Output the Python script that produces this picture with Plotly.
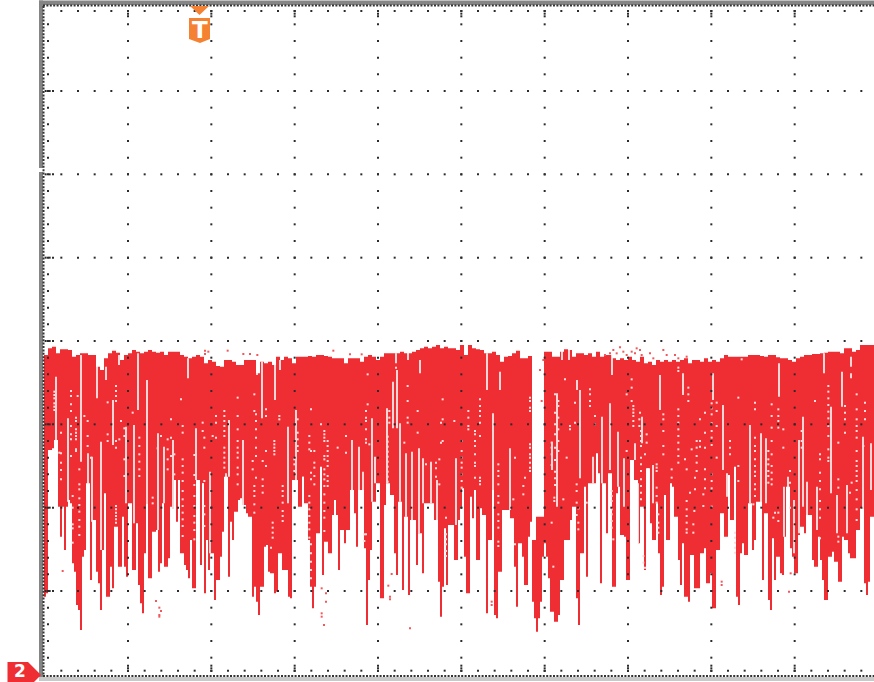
import plotly.graph_objects as go

# Trace read-out: time counts (one column = 6 counts) and depth counts (250 counts per division)
STRIP_STARTS = [40, 180, 320, 460, 600, 740]
FIRST_COLUMN = [12, 0, 0, 0, 0, 0]

LOWER_1 = [770,760,330,330,325,300,300,500,590,500,630,500,480,490,670,695,795,810,870,650,630,430,430,720,540,540,695,730,810,630,460,770,770,680,745,560,560,680,680,530,680,710,490,490,690,690,550,735,790,820,640,490,715,715,575,575,570,695,670,490,680,680,655,500,505,420,545,420]
LOWER_2 = [640,640,675,690,715,600,745,745,420,420,675,430,760,600,690,640,640,780,720,720,650,575,410,410,710,545,600,515,515,480,475,495,495,520,530,530,770,740,785,825,740,740,620,615,695,700,700,760,755,640,640,690,690,690,770,775,420,420,420,500,500,410,490,490,600,740,805,740,580,580]
LOWER_3 = [380,705,605,605,640,640,525,480,525,690,570,570,610,570,570,450,450,520,620,450,450,450,625,855,720,630,485,485,430,430,775,775,495,430,430,465,465,640,705,485,485,750,530,530,765,540,540,540,675,580,580,700,490,490,490,490,490,540,540,725,830,740,565,735,555,555,555,660,660,540]
LOWER_4 = [500,445,650,760,760,470,535,450,660,660,505,525,525,820,600,600,450,825,835,695,695,510,510,510,510,535,535,680,800,610,610,650,735,735,590,545,785,835,875,835,785,650,610,650,715,815,815,845,845,825,720,720,600,600,600,540,500,500,775,855,640,640,440,710,430,430,430,430,340,400]
LOWER_5 = [730,430,430,580,400,400,740,740,460,440,585,585,590,720,720,360,360,420,420,610,500,500,690,385,385,550,600,600,490,640,765,740,465,600,600,430,440,530,530,660,735,610,770,770,785,645,645,745,745,745,640,640,625,730,730,700,805,805,630,630,520,520,590,590,405,540,540,380,770,795]
LOWER_6 = [640,610,645,645,490,490,630,600,485,485,485,720,520,520,780,810,595,720,650,650,700,705,590,440,440,625,650,700,700,585,560,560,580,525,525,525,660,680,680,590,660,720,780,780,650,650,635,665,665,725,725,590,600,600,640,655,655,655,570,570,505,505,730,765,725,530,530]

UPPER_1 = [45,25,20,40,28,28,30,50,45,40,40,45,45,80,90,55,40,32,38,60,45,40,30,35,40,35,30,35,38,35,45,35,35,35]
UPPER_2 = [45,50,55,50,45,50,70,60,65,78,80,60,60,65,75,75,60,60,60,100,65,70,65,75,50,60,50,55,70,50,50,50,48,50,45]
UPPER_3 = [45,48,50,55,55,55,70,55,55,55,65,50,45,50,60,50,40,40,40,40,35,40,40,35,30,25,20,25,20,15,25,20,25,25,30]
UPPER_4 = [15,45,15,25,28,30,40,40,35,45,65,50,48,40,32,55,55,48,600,530,530,35,35,50,50,35,28,30,50,40,40,45,40,50,35]
UPPER_5 = [50,45,45,55,60,55,60,50,60,65,50,70,65,75,60,65,60,65,60,65,60,55,70,60,60,65,55,65,60,65,55,45,50,50,50]
UPPER_6 = [50,50,45,45,45,48,50,45,45,52,55,55,60,65,55,50,45,45,42,42,40,38,35,35,35,40,25,25,35,30,15,15,15,15]

# Thin gaps inside the trace: (time, depth from, depth to)
GAPS_1 = [(48,110,300),(83,235,485),(124,45,365),(144,340,490),(155,350,545),(170,70,175),(182,305,630),(197,80,120),(218,180,315),(238,45,75),(258,260,490),(283,255,550),(295,40,210),(322,120,490),(355,280,570),(372,320,490),(398,300,505)]
GAPS_2 = [(24,55,115),(48,265,420),(68,430,540),(90,395,640),(137,400,600),(148,240,410),(190,300,495),(245,65,235),(285,50,180),(300,60,90),(325,260,490),(348,210,420),(370,410,490),(230,65,105)]
GAPS_3 = [(95,300,450),(118,320,450),(130,395,450),(155,235,485),(165,350,430),(200,205,430),(220,125,265),(230,90,265),(240,250,485),(258,340,530),(275,335,540),(296,325,580),(300,60,100),(310,355,490),(334,365,490),(352,420,540),(407,355,555),(228,40,70),(265,30,60)]
GAPS_4 = [(82,40,150),(120,95,150),(100,220,450),(150,325,510),(275,305,390),(290,160,500),(360,150,415),(400,350,430),(350,120,150),(305,30,60),(328,30,60)]
GAPS_5 = [(5,230,430),(30,190,390),(55,275,440),(72,355,500),(105,310,360),(98,360,550),(125,230,310),(160,375,490),(180,105,210),(250,100,165),(340,100,180),(368,195,390),(380,400,470),(145,385,490),(37,40,105),(115,430,610)]
GAPS_6 = [(30,255,490),(62,280,490),(78,295,490),(117,70,170),(133,440,590),(145,410,490),(163,480,640),(178,300,580),(190,230,500),(202,425,530),(232,440,570),(252,40,100),(272,200,460),(290,465,580),(307,95,200),(322,435,580),(332,100,115),(370,290,505),(392,310,450),(332,50,80)]

# Isolated empty samples inside the trace: (time, depth)
HOLES_1 = [(43,155),(43,165),(43,175),(43,190),(43,200),(43,210),(93,153),(93,168),(93,193),(93,213),(113,168),(108,233),(108,243),(93,258),(63,278),(108,268),(108,278),(93,283),(108,288),(108,298),(93,298),(63,340),(58,338),(63,368),(63,390),(63,418),(108,328),(108,333),(93,348),(118,388),(118,433),(118,448),(118,475),(118,495),(118,515),(118,540),(118,560),(118,585),(98,468),(98,503),(98,553),(98,565),(98,608),(228,138),(228,153),(228,168),(228,183),(203,187),(133,228),(143,243),(243,243),(253,265),(253,288),(143,288),(143,318),(153,353),(203,283),(203,303),(228,303),(238,298),(228,323),(253,358),(253,408),(298,293),(298,318),(298,343),(298,365),(298,388),(298,408),(278,218),(393,238),(363,288),(383,298),(393,293),(383,328),(353,325),(383,358),(393,348),(403,343),(383,388),(403,403),(338,473),(338,490),(228,498),(228,508),(228,518),(228,528),(228,538),(228,548)]
HOLES_2 = [(3,178),(8,258),(8,278),(68,248),(68,273),(73,293),(73,323),(98,288),(108,228),(108,248),(108,293),(133,213),(133,228),(133,243),(133,258),(133,273),(133,288),(133,323),(133,338),(133,353),(133,368),(133,383),(173,173),(173,228),(173,268),(173,303),(173,323),(173,338),(173,353),(173,383),(173,403),(173,433),(223,163),(223,213),(228,223),(228,243),(228,268),(228,293),(228,323),(228,348),(218,363),(218,388),(228,413),(223,438),(223,453),(223,468),(223,493),(223,518),(248,363),(258,208),(258,228),(258,333),(258,378),(248,418),(248,438),(248,458),(298,228),(298,238),(283,303),(283,313),(283,323),(283,333),(283,343),(308,438),(308,453),(308,468),(308,488),(308,513),(308,528),(308,543),(278,548),(278,563),(278,578),(278,593),(273,623),(353,238),(353,278),(353,298),(353,318),(353,333),(343,358),(343,373),(343,393),(388,288),(388,308),(388,328),(393,208),(393,333),(403,333),(403,368),(403,383),(393,398),(403,408),(393,418),(403,433),(388,468),(388,488),(388,508),(388,528),(388,548),(388,568),(388,593),(393,613),(393,640),(393,665),(393,690),(393,715),(43,345),(43,405),(43,435),(43,468),(43,498),(43,528),(43,548),(43,570),(43,598),(8,358),(8,378),(8,398),(8,423),(8,453),(8,478),(8,498),(8,518),(8,538),(8,558),(8,588),(73,498),(73,523),(73,558),(73,423)]
HOLES_3 = [(143,103),(143,193),(138,213),(138,233),(138,243),(138,268),(138,298),(138,308),(148,313),(78,288),(78,338),(53,323),(13,273),(13,283),(13,293),(13,303),(23,303),(23,318),(23,333),(23,348),(23,363),(23,378),(13,348),(13,358),(13,388),(13,403),(13,418),(23,408),(23,423),(23,438),(13,438),(13,463),(13,488),(13,513),(13,533),(13,573),(3,253),(208,213),(208,233),(208,248),(203,290),(203,305),(203,320),(203,335),(203,350),(203,365),(203,380),(203,395),(203,410),(203,425),(228,83),(263,138),(263,183),(263,233),(263,248),(293,213),(293,278),(253,308),(368,178),(368,238),(363,248),(363,308),(368,303),(403,243),(318,373),(348,368),(358,358),(348,385),(348,410),(358,433),(378,533),(378,583),(378,598),(378,613),(378,633),(378,648),(133,583),(133,603),(138,583)]
HOLES_4 = [(60,178),(60,198),(60,213),(60,228),(60,248),(60,288),(25,213),(25,233),(25,258),(25,268),(45,273),(45,283),(45,303),(45,318),(45,343),(45,368),(45,378),(45,413),(5,303),(5,333),(5,353),(5,368),(5,383),(5,403),(5,423),(5,443),(60,413),(60,423),(60,433),(115,373),(115,393),(115,408),(115,433),(115,468),(115,488),(115,523),(115,543),(115,563),(115,605),(115,618),(165,353),(195,413),(190,438),(190,463),(160,478),(165,613),(210,173),(210,183),(210,203),(210,213),(210,313),(210,323),(210,343),(210,353),(210,368),(210,383),(210,393),(280,680),(315,118),(345,188),(390,148),(390,163),(390,183),(390,198),(405,228),(405,253),(345,248),(330,258),(330,268),(310,478),(350,433),(350,453),(380,488),(350,488),(350,525),(355,505),(355,548),(355,568),(285,163),(295,183),(295,198),(285,218),(295,233),(285,253),(295,268),(285,283),(295,303),(285,323),(295,333),(275,308),(275,323),(275,343),(285,360),(275,375),(285,395),(285,415),(285,435),(283,473),(283,483),(275,548),(320,353)]
HOLES_5 = [(95,118),(95,143),(80,163),(95,183),(100,198),(100,208),(100,218),(100,228),(100,243),(100,258),(120,218),(118,238),(118,258),(123,273),(123,288),(123,303),(123,318),(140,283),(140,308),(135,343),(80,333),(123,353),(123,373),(123,393),(123,418),(123,438),(123,458),(123,478),(170,373),(170,383),(170,393),(170,443),(170,468),(170,488),(175,523),(175,548),(175,563),(175,578),(190,223),(190,238),(190,273),(190,318),(190,343),(215,388),(215,413),(235,208),(235,228),(235,248),(235,268),(235,288),(235,308),(235,328),(235,348),(235,368),(255,358),(260,388),(265,143),(265,163),(265,183),(235,83),(235,93),(300,238),(315,218),(315,278),(290,303),(300,303),(300,320),(290,323),(315,323),(275,328),(290,348),(290,368),(290,393),(285,413),(285,448),(270,458),(260,483),(260,508),(260,528),(260,548),(260,568),(260,578),(280,553),(280,578),(283,513),(310,463),(310,498),(315,388),(315,418),(315,445),(335,190),(335,205),(335,223),(335,250),(335,273),(335,293),(335,315),(350,188),(350,213),(350,258),(350,353),(335,403),(335,423),(335,445),(335,500),(35,453),(35,468),(35,483),(35,508),(35,523),(35,543),(35,563),(40,598),(405,578),(405,593),(405,608),(405,623),(405,638),(390,303),(390,323),(390,343),(415,173),(415,378),(415,423),(130,648),(130,668),(135,683)]
HOLES_6 = [(5,58),(45,188),(45,208),(95,193),(95,228),(95,263),(115,208),(115,228),(115,243),(115,263),(130,268),(130,323),(45,293),(45,318),(45,333),(45,358),(45,378),(45,395),(45,408),(45,433),(45,448),(45,468),(40,493),(85,333),(85,358),(85,373),(85,393),(85,408),(85,428),(95,303),(95,343),(95,378),(95,398),(95,418),(95,433),(115,518),(105,518),(100,533),(115,543),(150,393),(150,428),(150,503),(185,273),(185,303),(185,323),(225,183),(240,343),(240,358),(240,398),(240,423),(240,448),(240,483),(240,508),(240,533),(265,138),(265,155),(265,175),(265,195),(265,215),(265,235),(265,258),(265,288),(265,328),(265,353),(265,363),(295,308),(295,418),(295,443),(315,198),(315,218),(315,238),(315,278),(350,163),(350,208),(350,238),(350,258),(350,273),(350,293),(350,333),(350,363),(350,378),(350,393),(350,408),(350,423),(350,450),(350,478),(350,508),(350,540),(375,188),(375,213),(375,238),(370,318),(335,428),(330,458),(240,595),(295,590),(295,605)]

# Isolated samples outside the solid trace: (time, depth)
STRAY_1 = [(68,693),(348,783),(358,803),(363,813),(358,825),(358,830)]
STRAY_2 = [(75,32),(75,42),(85,35),(143,32),(190,42),(210,42),(232,45)]
STRAY_3 = [(40,32),(90,43),(125,43),(5,745),(18,760),(18,785),(5,820),(5,830),(12,855),(205,737),(215,702),(210,770),(210,778),(270,865)]
STRAY_4 = [(95,785),(95,795),(240,90),(250,60),(245,183)]
STRAY_5 = [(60,22),(70,35),(50,40),(40,30),(30,40),(95,35),(110,25),(120,30),(125,45),(105,40),(80,45),(15,45),(150,40),(160,55),(190,30),(200,45),(225,45),(235,55),(260,50),(365,725),(365,735)]
STRAY_6 = [(147,755),(152,700)]

RED = "#EF2E33"
ORANGE = "#F58233"
DOT = "#2b2b2b"
X_DIV = 250
Y_DIV = 250
X_ORIGIN = 134
Y_CENTRE = 3
MINOR = 50

LOWERS = [LOWER_1, LOWER_2, LOWER_3, LOWER_4, LOWER_5, LOWER_6]
UPPERS = [UPPER_1, UPPER_2, UPPER_3, UPPER_4, UPPER_5, UPPER_6]
GAPS = [GAPS_1, GAPS_2, GAPS_3, GAPS_4, GAPS_5, GAPS_6]
HOLES = [HOLES_1, HOLES_2, HOLES_3, HOLES_4, HOLES_5, HOLES_6]
STRAYS = [STRAY_1, STRAY_2, STRAY_3, STRAY_4, STRAY_5, STRAY_6]

col_x, col_top, col_len = [], [], []
gap_x, gap_top, gap_len = [], [], []
hole_x, hole_y, stray_x, stray_y = [], [], [], []
for s, start in enumerate(STRIP_STARTS):
    off = start * 3
    for k, low in enumerate(LOWERS[s]):
        top = UPPERS[s][min(k // 2, len(UPPERS[s]) - 1)]
        col_x.append(off + FIRST_COLUMN[s] + 6 * k + 3)
        col_top.append(top)
        col_len.append(max(low - top, 0))
    for gx, a, b in GAPS[s]:
        gap_x.append(off + gx); gap_top.append(a); gap_len.append(b - a)
    for hx, hy in HOLES[s]:
        hole_x.append(off + hx); hole_y.append(hy)
    for rx, ry in STRAYS[s]:
        stray_x.append(off + rx); stray_y.append(ry)

# Graticule dots
gx_dots, gy_dots = [], []
majors_x = [X_ORIGIN + X_DIV * i for i in range(0, 11)]
majors_y = [Y_CENTRE + Y_DIV * j for j in range(-4, 5)]
for mx in majors_x[1:]:
    for n in range(1, 40):
        gx_dots.append(mx); gy_dots.append(majors_y[0] + MINOR * n)
for my in majors_y[1:-1]:
    for n in range(1, 50):
        gx_dots.append(X_ORIGIN + MINOR * n); gy_dots.append(my)
# Edge ticks
for n in range(1, 50):
    vx = X_ORIGIN + MINOR * n
    gx_dots += [vx, vx]; gy_dots += [majors_y[0] + 10, majors_y[-1] - 11]
for n in range(1, 40):
    vy = majors_y[0] + MINOR * n
    gx_dots.append(X_ORIGIN + 10); gy_dots.append(vy)
for my in majors_y[1:-1]:
    gx_dots += [X_ORIGIN + 3, X_ORIGIN + 15, X_ORIGIN + 25]; gy_dots += [my, my, my]
for mx in majors_x[1:]:
    for d in (10, 18, 26):
        gx_dots += [mx, mx]; gy_dots += [majors_y[0] + d, majors_y[-1] - d]

fig = go.Figure()
fig.add_trace(go.Bar(x=col_x, y=col_len, base=col_top, width=6, marker=dict(color=RED, line=dict(width=0))))
fig.add_trace(go.Bar(x=gap_x, y=gap_len, base=gap_top, width=4, marker=dict(color="#fff", opacity=0.8, line=dict(width=0))))
fig.add_trace(go.Scatter(x=hole_x, y=hole_y, mode="markers", marker=dict(symbol="square", size=2, color="#ffdcdc", line=dict(width=0))))
fig.add_trace(go.Scatter(x=stray_x, y=stray_y, mode="markers", marker=dict(symbol="square", size=2, color="#F2575B", line=dict(width=0))))
fig.add_trace(go.Scatter(x=gx_dots, y=gy_dots, mode="markers", marker=dict(symbol="square", size=2, color=DOT, line=dict(width=0))))


def c(px):
    return px * 3


def r(py):
    return (py - 340) * 3


def rect(x0, y0, x1, y1, color):
    return dict(type="rect", xref="x", yref="y", x0=c(x0), x1=c(x1), y0=r(y0), y1=r(y1), fillcolor=color, line_width=0, layer="above")


def poly(points, color, line=None):
    path = "M " + " L ".join(f"{c(a)} {r(b)}" for a, b in points) + " Z"
    return dict(type="path", xref="x", yref="y", path=path, fillcolor=color, line=dict(width=1 if line else 0, color=line or color), layer="above")


def dashed(x0, y0, x1, y1):
    return dict(type="line", xref="x", yref="y", x0=c(x0), x1=c(x1), y0=r(y0), y1=r(y1), line=dict(color="#333", width=2, dash="2px,1.4px"), layer="above")


shapes = [
    rect(39, 0.5, 874, 5, "#858585"),
    rect(39, 0.5, 43, 168, "#858585"),
    rect(39, 172, 43, 680, "#858585"),
    rect(39, 677, 874, 681, "#c9c9c9"),
    dashed(43, 5.5, 874, 5.5),
    dashed(43, 676, 874, 676),
    dashed(43.5, 6, 43.5, 676),
    poly([(190, 6), (209, 6), (199.5, 15)], ORANGE),
    poly([(189, 18), (210, 18), (210, 39), (200, 43), (189, 39)], ORANGE),
    poly([(7.5, 662), (28, 662), (41, 675), (34, 682), (7.5, 682)], RED),
]

annotations = [
    dict(x=c(199.5), y=r(30), xref="x", yref="y", text="<b>T</b>", showarrow=False, font=dict(family="DejaVu Sans", size=23, color="#fff")),
    dict(x=c(20), y=r(671), xref="x", yref="y", text="<b>2</b>", showarrow=False, yanchor="middle", font=dict(family="DejaVu Sans", size=17, color="#fff")),
]

fig.update_layout(
    width=874, height=682, margin=dict(l=0, r=0, t=0, b=0),
    paper_bgcolor="#fff", plot_bgcolor="#fff", showlegend=False, barmode="overlay",
    xaxis=dict(range=[0, 2622], visible=False, fixedrange=True),
    yaxis=dict(range=[1026, -1020], visible=False, fixedrange=True),
    shapes=shapes, annotations=annotations,
)
fig.write_html("out.html", post_script="document.body.style.margin='0';document.body.style.overflow='hidden';", config={"displayModeBar": False})
